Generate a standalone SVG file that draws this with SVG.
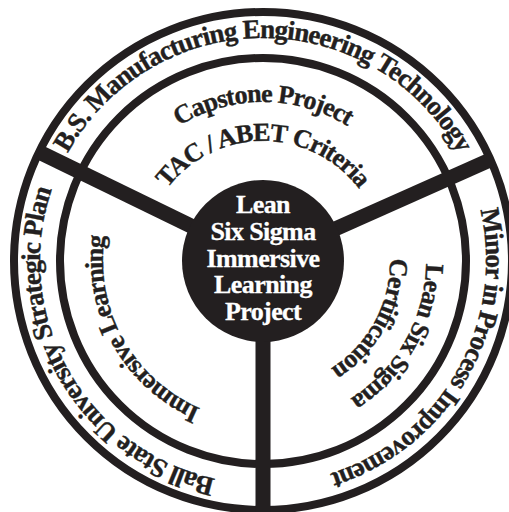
<svg xmlns="http://www.w3.org/2000/svg" xmlns:xlink="http://www.w3.org/1999/xlink" width="509" height="512" viewBox="0 0 509 512">
<style>
.ring{fill:none;stroke:#231f20;stroke-width:8}
.spoke{stroke:#231f20;stroke-width:15;stroke-linecap:butt}
.lbl{font-family:"Liberation Serif","Times New Roman",serif;font-weight:bold;fill:#231f20;stroke:#231f20;stroke-width:0.4;text-anchor:middle}
.outer{font-size:27px;letter-spacing:-0.95px}
.inner{font-size:26px;letter-spacing:-0.9px}
.hub{font-family:"Liberation Serif","Times New Roman",serif;font-weight:bold;font-size:26px;letter-spacing:-0.6px;fill:#ffffff;stroke:#ffffff;stroke-width:0.3;text-anchor:middle}
</style>
<defs>
<path id="p223" d="M263,484 A223,223 0 1 1 263,38 A223,223 0 1 1 263,484"/>
<path id="p159" d="M263,420 A159,159 0 1 1 263,102 A159,159 0 1 1 263,420"/>
<path id="p120" d="M263,381 A120,120 0 1 1 263,141 A120,120 0 1 1 263,381"/>
<path id="p160" d="M263,421 A160,160 0 1 1 263,101 A160,160 0 1 1 263,421"/>
<path id="p163" d="M263,424 A163,163 0 1 1 263,98 A163,163 0 1 1 263,424"/>
<path id="p127" d="M263,388 A127,127 0 1 1 263,134 A127,127 0 1 1 263,388"/>
</defs>
<rect width="509" height="512" fill="#ffffff"/>
<g id="rings">
<circle class="ring" cx="263" cy="261" r="249"/>
<circle class="ring" cx="263" cy="261" r="203"/>
</g>
<g id="connectors">
<line class="spoke" x1="263" y1="261" x2="39" y2="152"/>
<line class="spoke" x1="263" y1="261" x2="490" y2="160"/>
<line class="spoke" x1="263" y1="261" x2="263" y2="512"/>
</g>
<g id="outer-top"><text class="lbl outer"><textPath xlink:href="#p223" href="#p223" startOffset="50%">B.S. Manufacturing Engineering Technology</textPath></text></g>
<g id="outer-left"><text class="lbl outer"><textPath xlink:href="#p223" href="#p223" startOffset="16.8%">Ball State University Strategic Plan</textPath></text></g>
<g id="outer-right"><text class="lbl outer"><textPath xlink:href="#p223" href="#p223" startOffset="83.2%">Minor in Process Improvement</textPath></text></g>
<g id="sector-top">
<text class="lbl inner"><textPath xlink:href="#p159" href="#p159" startOffset="50%">Capstone Project</textPath></text>
<text class="lbl inner"><textPath xlink:href="#p120" href="#p120" startOffset="50%">TAC / ABET Criteria</textPath></text>
</g>
<g id="sector-left"><text class="lbl inner"><textPath xlink:href="#p160" href="#p160" startOffset="16.9%">Immersive Learning</textPath></text></g>
<g id="sector-right">
<text class="lbl inner"><textPath xlink:href="#p163" href="#p163" startOffset="83.1%">Lean Six Sigma</textPath></text>
<text class="lbl inner"><textPath xlink:href="#p127" href="#p127" startOffset="82.8%">Certification</textPath></text>
</g>
<g id="hub">
<circle cx="263" cy="261" r="81" fill="#231f20"/>
<text class="hub" x="263" y="213">Lean</text>
<text class="hub" x="263" y="240">Six Sigma</text>
<text class="hub" x="263" y="267">Immersive</text>
<text class="hub" x="263" y="293">Learning</text>
<text class="hub" x="263" y="320">Project</text>
</g>
</svg>
